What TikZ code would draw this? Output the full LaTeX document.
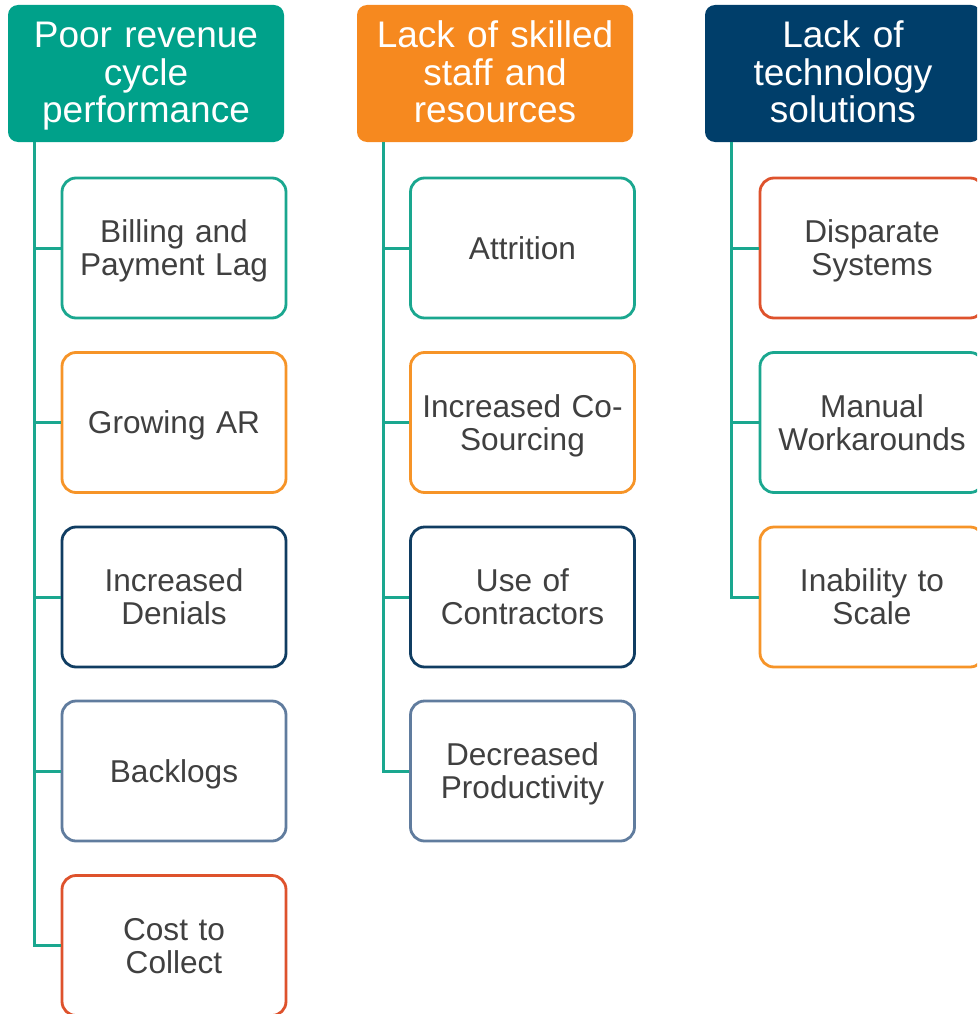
\documentclass[tikz,border=0pt]{standalone}
\usepackage{fontspec}
\setmainfont{Liberation Sans}
\definecolor{cteal}{RGB}{0,161,138}
\definecolor{corange}{RGB}{246,137,31}
\definecolor{cnavy}{RGB}{0,62,106}
\definecolor{lteal}{RGB}{26,167,143}
\definecolor{lorange}{RGB}{246,148,40}
\definecolor{lnavy}{RGB}{16,61,98}
\definecolor{lslate}{RGB}{96,124,158}
\definecolor{lred}{RGB}{222,82,44}
\definecolor{txt}{RGB}{64,64,64}
\tikzset{
  x=1pt, y=-1pt,
  header/.style={rounded corners=10pt, inner sep=0pt, minimum width=276pt,
    minimum height=137pt, text width=270pt, align=center, text=white,
    font=\fontsize{37}{37.5}\selectfont,
    execute at begin node={\rule{0pt}{30.8pt}},
    execute at end node={\rule[-7.7pt]{0pt}{7.7pt}}},
  item/.style={draw=#1, line width=2.8pt, rounded corners=14pt, fill=white,
    inner sep=0pt, minimum width=224pt, minimum height=140pt, text width=215pt,
    align=center, text=txt, font=\fontsize{31.6}{33}\selectfont,
    execute at begin node={\rule{0pt}{29pt}},
    execute at end node={\rule[-7pt]{0pt}{7pt}}},
  link/.style={draw=lteal, line width=3pt}
}
\begin{document}
\begin{tikzpicture}
\useasboundingbox (0,0) rectangle (977,1014);
\clip (0,0) rectangle (977,1014);

% column headers
\node[header, fill=cteal] (h1) at (146,73.5) {Poor revenue\\cycle\\performance};
\node[header, fill=corange] (h2) at (495,73.5) {Lack of skilled\\staff and\\resources};
\node[header, fill=cnavy] (h3) at (843,73.5) {Lack of\\technology\\solutions};

% trunk tops under each header
\coordinate (t1) at (34.5,142);
\coordinate (t2) at (383.5,142);
\coordinate (t3) at (731.5,142);

% first column
\node[item=lteal] (a1) at (174,248) {Billing and\\Payment Lag};
\node[item=lorange] (a2) at (174,422.5) {Growing AR};
\node[item=lnavy] (a3) at (174,597) {Increased\\Denials};
\node[item=lslate] (a4) at (174,771) {Backlogs};
\node[item=lred] (a5) at (174,945.5) {Cost to\\Collect};

% second column
\node[item=lteal] (b1) at (522.5,248) {Attrition};
\node[item=lorange] (b2) at (522.5,422.5) {Increased Co-\\Sourcing};
\node[item=lnavy] (b3) at (522.5,597) {Use of\\Contractors};
\node[item=lslate] (b4) at (522.5,771) {Decreased\\Productivity};

% third column
\node[item=lred] (c1) at (872,248) {Disparate\\Systems};
\node[item=lteal] (c2) at (872,422.5) {Manual\\Workarounds};
\node[item=lorange] (c3) at (872,597) {Inability to\\Scale};

% connectors
\draw[link] (t1) |- (a5.west);
\foreach \n in {a1,a2,a3,a4} \draw[link] (t1 |- \n.west) -- (\n.west);
\draw[link] (t2) |- (b4.west);
\foreach \n in {b1,b2,b3} \draw[link] (t2 |- \n.west) -- (\n.west);
\draw[link] (t3) |- (c3.west);
\foreach \n in {c1,c2} \draw[link] (t3 |- \n.west) -- (\n.west);
\end{tikzpicture}
\end{document}
